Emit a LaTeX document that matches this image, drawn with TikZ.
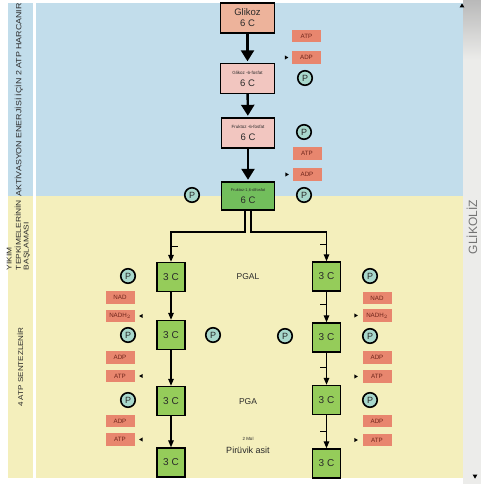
\documentclass[tikz,border=0pt]{standalone}
\usepackage{fontspec}
\setmainfont{Liberation Sans}
\usetikzlibrary{positioning, arrows.meta, shapes.geometric}
\definecolor{bgBlue}{HTML}{C2DDEB}
\definecolor{bgYellow}{HTML}{F4EFBC}
\definecolor{stripGray}{HTML}{ECECEA}
\definecolor{tagSalmon}{HTML}{E8866E}
\definecolor{tagText}{HTML}{6E241A}
\definecolor{glucFill}{HTML}{EDB39B}
\definecolor{pinkFill}{HTML}{F2C6C0}
\definecolor{greenSix}{HTML}{72BE5C}
\definecolor{greenThree}{HTML}{95CC5A}
\definecolor{pFill}{HTML}{A8D8CC}
\definecolor{inkGray}{HTML}{2A2A2A}

\begin{document}
\begin{tikzpicture}[
    x=1pt, y=-1pt,
    box/.style={draw, line width=1.4pt, align=center, inner sep=0pt, minimum width=54pt, minimum height=30pt, font=\fontsize{9.5}{11}\selectfont, text=inkGray},
    tri/.style={draw, line width=1.4pt, fill=greenThree, minimum width=28pt, minimum height=29pt, inner sep=0pt, font=\fontsize{10}{10}\selectfont, text=inkGray},
    tag/.style={fill=tagSalmon, minimum width=29pt, minimum height=12.5pt, inner sep=0pt, text=tagText, font=\fontsize{6.2}{6.5}\selectfont},
    pcirc/.style={circle, draw, line width=1.6pt, fill=pFill, minimum size=14.5pt, inner sep=0pt, font=\fontsize{9}{9}\selectfont, text=inkGray},
    tipR/.style={isosceles triangle, isosceles triangle apex angle=60, fill=black, inner sep=0pt, minimum size=3.5pt},
    tipL/.style={tipR, shape border rotate=180},
    side/.style={rotate=90, text=inkGray, align=left},
    lbl/.style={text=inkGray, font=\fontsize{8.5}{9}\selectfont},
    bigarrow/.style={line width=2.4pt, -{Triangle[length=11pt,width=13pt]}, shorten >=1.5pt},
    flow/.style={line width=1.3pt, -{Triangle[length=7pt,width=5.5pt]}}
]
    \useasboundingbox (0,0) rectangle (481,484);
    % background bands
    \fill[bgBlue] (8,3) rectangle (463,196);
    \fill[bgYellow] (8,196) rectangle (463,478);
    \fill[white] (32.5,3) rectangle (35.5,478);
    \fill[stripGray] (463,0) rectangle (481,484);
    \shade[top color=gray!55, bottom color=stripGray] (463,0) rectangle (481,60);

    % side headings
    \node[side, font=\fontsize{7.5}{8}\selectfont] (akt) at (19,100) {\scalebox{1.18}[1]{AKTİVASYON ENERJİSİ İÇİN 2 ATP HARCANIR}};
    \node[side, font=\fontsize{7}{8.5}\selectfont] (yikim) at (18.5,235) {\scalebox{1.2}[1]{\shortstack[l]{YIKIM\\TEPKİMELERİNİN\\BAŞLAMASI}}};
    \node[side, font=\fontsize{7}{8}\selectfont] (sentez) at (20,367) {\scalebox{1.15}[1]{4 ATP SENTEZLENİR}};
    \node[side, font=\fontsize{12}{12}\selectfont, text=gray!90!black] (glikoliz) at (472,227) {GLİKOLİZ};
    \node[isosceles triangle, isosceles triangle apex angle=60, shape border rotate=90, fill=black, inner sep=0pt, minimum size=4pt] (up) at (462,6) {};
    \node[isosceles triangle, isosceles triangle apex angle=60, shape border rotate=-90, fill=black, inner sep=0pt, minimum size=4pt] (down) at (475,476) {};

    % six-carbon chain
    \node[box, fill=glucFill] (G0) at (247.5,18) {Glikoz\\6 C};
    \node[box, fill=pinkFill] (G1) at (247.5,78.5) {{\fontsize{4.5}{5}\selectfont Glikoz -6-fosfat}\\[1pt]6 C};
    \node[box, fill=pinkFill, minimum width=53pt] (G2) at (248,133) {{\fontsize{4.5}{5}\selectfont Fruktoz -6-fosfat}\\[1pt]6 C};
    \node[box, fill=greenSix, minimum width=53pt, minimum height=28pt] (G3) at (248,196) {{\fontsize{4}{4.5}\selectfont Fruktoz-1,6-difosfat}\\[1pt]6 C};

    \draw[bigarrow] (G0) -- (G1);
    \draw[bigarrow] (G1) -- (G2);
    \draw[bigarrow] (G2) -- (G3);

    \node[tag] (atp1) at (306.5,36) {ATP};
    \node[tag] (adp1) at (306.5,57.5) {ADP};
    \node[tipR, left=3pt of adp1] (t1) {};
    \node[pcirc] (p1) at (305,78) {P};
    \node[pcirc] (p2) at (304,132) {P};
    \node[tag] (atp2) at (307,153.5) {ATP};
    \node[tag] (adp2) at (307,174.5) {ADP};
    \node[tipR, left=3pt of adp2] (t2) {};
    \node[pcirc] (p3) at (304,195) {P};
    \node[pcirc] (p4) at (192,195) {P};

    % three-carbon columns
    \node[tri] (L1) at (171,277) {3 C};
    \node[tri] (L2) at (171,335) {3 C};
    \node[tri] (L3) at (171,401) {3 C};
    \node[tri] (L4) at (171,462.5) {3 C};
    \node[tri] (R1) at (326.5,276.5) {3 C};
    \node[tri] (R2) at (326.5,337.5) {3 C};
    \node[tri] (R3) at (326.5,400) {3 C};
    \node[tri] (R4) at (326.5,463.5) {3 C};

    \coordinate (brL) at (171,232);
    \coordinate (brR) at (326.5,232);
    \draw[flow] ([xshift=-3pt]G3.south) |- (brL) -- (L1);
    \draw[flow] ([xshift=3pt]G3.south) |- (brR) -- (R1);
    \foreach \a/\b in {L1/L2,L2/L3,L3/L4,R1/R2,R2/R3,R3/R4}
        \draw[flow] (\a) -- (\b);
    \draw[line width=1pt] ([yshift=15pt]L1.north) -- ++(7,0);
    \foreach \n/\d in {R1/17,R2/18,R3/17,R4/17}
        \draw[line width=1pt] ([yshift=\d pt]\n.north) -- ++(-7,0);

    % left side inputs
    \node[pcirc] (pL1) at (128,276) {P};
    \node[tag] (nadL) at (120,297.5) {NAD};
    \node[tag] (nadhL) at (120,316) {NADH$_2$};
    \node[tipL, right=4pt of nadhL] (t3) {};
    \node[pcirc] (pL2) at (128,335) {P};
    \node[tag] (adpL1) at (120,357.5) {ADP};
    \node[tag] (atpL1) at (120,376) {ATP};
    \node[tipL, right=4pt of atpL1] (t4) {};
    \node[pcirc] (pL3) at (128,400) {P};
    \node[tag] (adpL2) at (120,421) {ADP};
    \node[tag] (atpL2) at (120,439.5) {ATP};
    \node[tipL, right=4pt of atpL2] (t5) {};

    \node[pcirc] (pM1) at (213,335) {P};
    \node[pcirc] (pM2) at (285,336) {P};

    % right side inputs
    \node[pcirc] (pR1) at (370,276) {P};
    \node[tag] (nadR) at (377,298) {NAD};
    \node[tag] (nadhR) at (377,315.5) {NADH$_2$};
    \node[tipR, left=4pt of nadhR] (t6) {};
    \node[pcirc] (pR2) at (370,336) {P};
    \node[tag] (adpR1) at (377,357.5) {ADP};
    \node[tag] (atpR1) at (377,376.5) {ATP};
    \node[tipR, left=4pt of atpR1] (t7) {};
    \node[pcirc] (pR3) at (370,400) {P};
    \node[tag] (adpR2) at (377,421) {ADP};
    \node[tag] (atpR2) at (377,440) {ATP};
    \node[tipR, left=4pt of atpR2] (t8) {};

    % stage names
    \node[lbl] (pgal) at (248,277) {PGAL};
    \node[lbl] (pga) at (248,402) {PGA};
    \node[text=inkGray, font=\fontsize{4.5}{4.5}\selectfont] (mol) at (248,439) {2 Mol};
    \node[text=inkGray, font=\fontsize{9}{9}\selectfont] (piruvik) at (248,450) {Pirüvik asit};
\end{tikzpicture}
\end{document}
